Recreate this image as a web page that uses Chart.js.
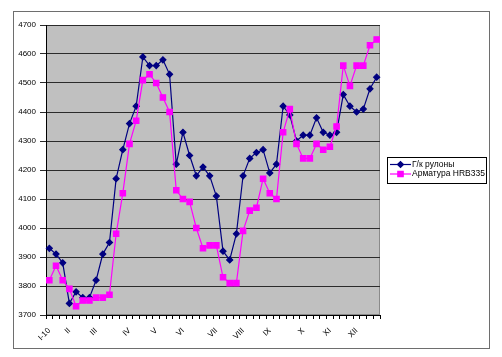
<!DOCTYPE html>
<html>
<head>
<meta charset="utf-8">
<script src="https://cdn.jsdelivr.net/npm/chart.js@4.4.0/dist/chart.umd.min.js"></script>
<style>
html,body{margin:0;padding:0;background:#fff;}
#wrap{width:502px;height:357px;position:relative;}
</style>
</head>
<body>
<div id="wrap"><canvas id="c" width="502" height="357"></canvas></div>
<script>
// Week-by-week categories; month labels shown on the first week of each month
const tickLabels = ['I-10','','','II','','','','III','','','','','IV','','','','V','','','','VI','','','','','VII','','','','VIII','','','','IX','','','','','X','','','','XI','','','','XII','','',''];
const seriesNames = ['Г/к рулоны', 'Арматура HRB335'];
const hotRolledCoil = [3930,3910,3880,3740,3780,3760,3760,3820,3910,3950,
                       4170,4270,4360,4420,4590,4560,4560,4580,4530,4220,
                       4330,4250,4180,4210,4180,4110,3920,3890,3980,4180,
                       4240,4260,4270,4190,4220,4420,4390,4300,4320,4320,
                       4380,4330,4320,4330,4460,4420,4400,4410,4480,4520];
const rebarHRB335 = [3820,3870,3820,3790,3730,3750,3750,3760,3760,3770,
                     3980,4120,4290,4370,4510,4530,4500,4450,4400,4130,
                     4100,4090,4000,3930,3940,3940,3830,3810,3810,3990,
                     4060,4070,4170,4120,4100,4330,4410,4290,4240,4240,
                     4290,4270,4280,4350,4560,4490,4560,4560,4630,4650];
const yMin = 3700, yMax = 4700, yStep = 100;

const FONT = "'Liberation Sans', Arial, sans-serif";

const framePlugin = {
  id: 'frame',
  beforeDraw(chart) {
    const {ctx, chartArea: a, width, height} = chart;
    ctx.save();
    ctx.fillStyle = '#ffffff';
    ctx.fillRect(0, 0, width, height);
    ctx.strokeStyle = '#6e6e6e';
    ctx.lineWidth = 1;
    ctx.strokeRect(13.5, 11.5, 476, 337);
    ctx.fillStyle = '#c0c0c0';
    ctx.fillRect(a.left, a.top, a.right - a.left, a.bottom - a.top);
    ctx.strokeStyle = '#8a8a8a';
    ctx.strokeRect(a.left + 0.5, a.top + 0.5, a.right - a.left - 1, a.bottom - a.top - 1);
    ctx.restore();
  },
  afterDraw(chart) {
    const {ctx, chartArea: a} = chart;
    const x0 = a.right + 7, top = a.top + 132;
    const w = 99, h = 26;
    ctx.save();
    ctx.fillStyle = '#ffffff';
    ctx.fillRect(x0, top, w, h);
    ctx.strokeStyle = '#000';
    ctx.lineWidth = 1;
    ctx.strokeRect(x0 + 0.5, top + 0.5, w, h);
    chart.data.datasets.forEach((ds, i) => {
      const y = top + 7.5 + i * 9.5;
      ctx.strokeStyle = ds.borderColor;
      ctx.lineWidth = 1.2;
      ctx.beginPath();
      ctx.moveTo(x0 + 3, y);
      ctx.lineTo(x0 + 24, y);
      ctx.stroke();
      ctx.fillStyle = ds.pointBackgroundColor;
      ctx.strokeStyle = ds.borderColor;
      Chart.helpers.drawPoint(ctx, {pointStyle: ds.pointStyle, radius: ds.pointRadius, rotation: 0, borderWidth: 1}, x0 + 13.5, y);
      ctx.fillStyle = '#000';
      ctx.font = '8.5px ' + FONT;
      ctx.textBaseline = 'middle';
      ctx.textAlign = 'left';
      ctx.fillText(ds.label, x0 + 25, y);
    });
    ctx.restore();
  }
};

new Chart(document.getElementById('c'), {
  type: 'line',
  data: {
    labels: tickLabels,
    datasets: [
      {
        label: seriesNames[0],
        data: hotRolledCoil,
        borderColor: '#000080',
        backgroundColor: '#000080',
        pointBackgroundColor: '#000080',
        pointBorderColor: '#000080',
        pointStyle: 'rectRot',
        pointRadius: 3,
        borderWidth: 1.2,
        tension: 0,
        order: 1
      },
      {
        label: seriesNames[1],
        data: rebarHRB335,
        borderColor: '#ff00ff',
        backgroundColor: '#ff00ff',
        pointBackgroundColor: '#ff00ff',
        pointBorderColor: '#ff00ff',
        pointStyle: 'rect',
        pointRadius: 3.8,
        borderWidth: 1.2,
        tension: 0,
        order: 0
      }
    ]
  },
  options: {
    responsive: false,
    animation: false,
    devicePixelRatio: 1,
    layout: {padding: {left: 0, top: 25, right: 122, bottom: 0}},
    plugins: {
      legend: {display: false},
      tooltip: {enabled: false}
    },
    scales: {
      x: {
        type: 'category',
        offset: true,
        afterFit(s) { s.height = 42; },
        grid: {offset: true, drawOnChartArea: false, drawTicks: true, tickLength: 4, color: '#000', lineWidth: 1},
        border: {display: true, color: '#000', width: 1},
        ticks: {autoSkip: false, minRotation: 45, maxRotation: 45, padding: 7, color: '#000', font: {family: FONT, size: 8}}
      },
      y: {
        min: yMin,
        max: yMax,
        afterFit(s) { s.width = 46; },
        grid: {color: '#2b2b2b', lineWidth: 1, tickLength: 6, drawTicks: true},
        border: {display: true, color: '#000', width: 1},
        ticks: {stepSize: yStep, padding: 4, color: '#000', font: {family: FONT, size: 8},
                callback: (v) => String(v)}
      }
    }
  },
  plugins: [framePlugin]
});
</script>
</body>
</html>
